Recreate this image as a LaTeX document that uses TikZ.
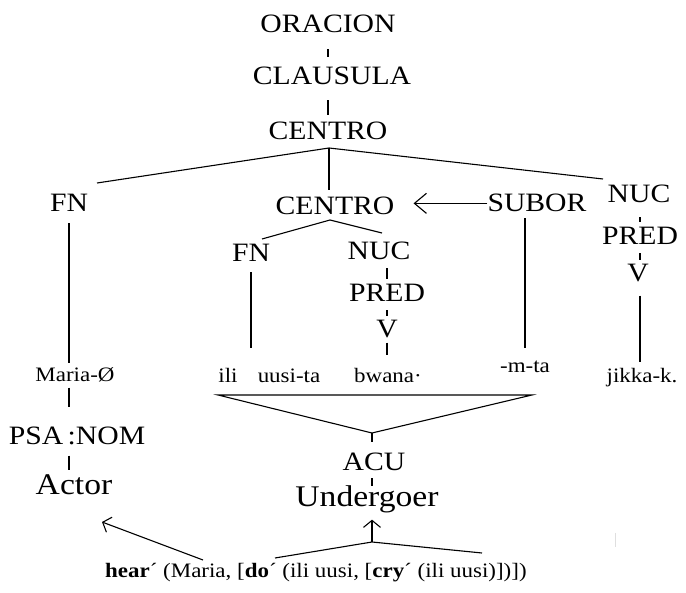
\documentclass[tikz,border=0pt]{standalone}
\usepackage{fontspec}
\setmainfont[FakeStretch=1.12]{Liberation Serif}
\usepackage{tikz}
\usetikzlibrary{arrows.meta}
\tikzset{
  lab/.style={inner sep=0pt,anchor=base,font=\fontsize{26.5}{30}\selectfont},
  wrd/.style={inner sep=0pt,anchor=base,font=\fontsize{20.5}{24}\selectfont},
  big/.style={inner sep=0pt,anchor=base,font=\fontsize{30}{34}\selectfont},
  ln/.style={line width=1.1pt,draw=black},
  arr/.style={ln,-{Straight Barb[length=7pt,width=16pt]}}
}

\begin{document}
\begin{tikzpicture}[x=1pt,y=-1pt]
  \useasboundingbox (0,0) rectangle (686,593);
  % upper spine
  \node[lab] (orac) at (328,33) {ORACION};
  \node[lab] (claus) at (332,85) {CLAUSULA};
  \node[lab] (cenA) at (328,140) {CENTRO};
  \node[lab] (fnA) at (69,212) {FN};
  \node[lab] (cenB) at (335,215) {CENTRO};
  \node[lab] (sub) at (537,212) {SUBOR};
  \node[lab] (nucA) at (639,203) {NUC};
  \node[lab] (predA) at (640,245) {PRED};
  \node[lab] (vA) at (638,282) {V};
  \node[lab] (fnB) at (251,262) {FN};
  \node[lab] (nucB) at (379,260) {NUC};
  \node[lab] (predB) at (387,302) {PRED};
  \node[lab] (vB) at (387,338) {V};
  % words
  \node[wrd] (maria) at (75,382) {Maria-Ø};
  \node[wrd] (ili) at (228,383) {ili};
  \node[wrd] (uusi) at (289,383) {uusi-ta};
  \node[wrd] (bwana) at (388,383) {bwana·};
  \node[wrd] (mta) at (525,373) {-m-ta};
  \node[wrd] (jikka) at (642,383) {jikka-k.};
  % lower part
  \node[lab] (psa) at (77,445) {PSA\thinspace:NOM};
  \node[big] (actor) at (74,495) {Actor};
  \node[lab] (acu) at (374,471) {ACU};
  \node[big] (under) at (367,507) {Undergoer};
  \node[wrd,anchor=base west] (form) at (105,577) {\textbf{hear}´ (Maria, [\textbf{do}´ (ili uusi, [\textbf{cry}´ (ili uusi)])])};

  \coordinate (j0) at (329,148);
  \coordinate (j1) at (330,220);
  \coordinate (brA) at (97,183);
  \coordinate (brB) at (603,179);
  \coordinate (brC) at (262,239);
  \coordinate (brD) at (382,233);
  \coordinate (trL) at (218,395);
  \coordinate (trR) at (532,395);
  \coordinate (trA) at (372,433);
  \coordinate (rfL) at (275,558);
  \coordinate (rfA) at (372,542);
  \coordinate (rfR) at (482,553);
  \coordinate (hearTop) at (203,560);
  \coordinate (aTip) at (102,522);

  \draw[ln,shorten <=16pt,shorten >=10pt] (orac.south) -- (orac.south |- claus.north);
  \draw[ln,shorten <=15pt,shorten >=7pt] (cenA.north |- claus.south) -- (cenA.north);
  \draw[ln] (brA) -- (j0) -- (brB);
  \draw[ln,shorten >=7pt] (j0) -- (j0 |- cenB.north);
  \draw[ln] (brC) -- (j1) -- (brD);
  \draw[arr,-{Straight Barb[length=12pt,width=20pt]},shorten >=19pt] (sub.west) -- (sub.west -| cenB.east);
  % left column
  \draw[ln,shorten <=11pt,shorten >=5pt] (fnA.south) -- (fnA.south |- maria.north);
  \draw[ln,shorten <=5pt,shorten >=20pt] (fnA.south |- maria.south) -- (fnA.south |- psa.north);
  \draw[ln,shorten <=10pt,shorten >=5pt] (fnA.south |- psa.south) -- (fnA.south |- actor.north);
  % middle
  \draw[ln,shorten <=10pt,shorten >=21pt] (fnB.south) -- (fnB.south |- ili.north);
  \draw[ln,shorten <=8pt,shorten >=5pt] (predB.north |- nucB.south) -- (predB.north);
  \draw[ln,shorten <=8pt,shorten >=4pt] (predB.south) -- (vB.north);
  \draw[ln,shorten <=4pt,shorten >=14pt] (vB.south) -- (vB.south |- bwana.north);
  \draw[ln,shorten <=6pt,shorten >=13pt] (mta.north |- sub.south) -- (mta.north);
  % right column
  \draw[ln,shorten <=14pt,shorten >=5pt] (predA.north |- nucA.south) -- (predA.north);
  \draw[ln,shorten <=8pt,shorten >=4pt] (predA.south) -- (predA.south |- vA.north);
  \draw[ln,shorten <=13pt,shorten >=7pt] (predA.south |- vA.south) -- (predA.south |- jikka.north);
  % triangle and linking
  \draw[ln] (trL) -- (trR) -- (trA) -- cycle;
  \draw[ln,shorten >=11pt] (trA) -- (trA |- acu.north);
  \draw[ln,shorten <=7pt] (trA |- acu.south) -- (trA |- under.north);
  \draw[ln] (rfL) -- (rfA) -- (rfR);
  \draw[arr,-{Straight Barb[length=7pt,width=17pt]},shorten >=6pt] (rfA) -- (rfA |- under.south);
  \draw[arr] (hearTop) -- (aTip);
  \draw[gray!25,line width=1pt] (615,533) -- (615,547);
\end{tikzpicture}
\end{document}
